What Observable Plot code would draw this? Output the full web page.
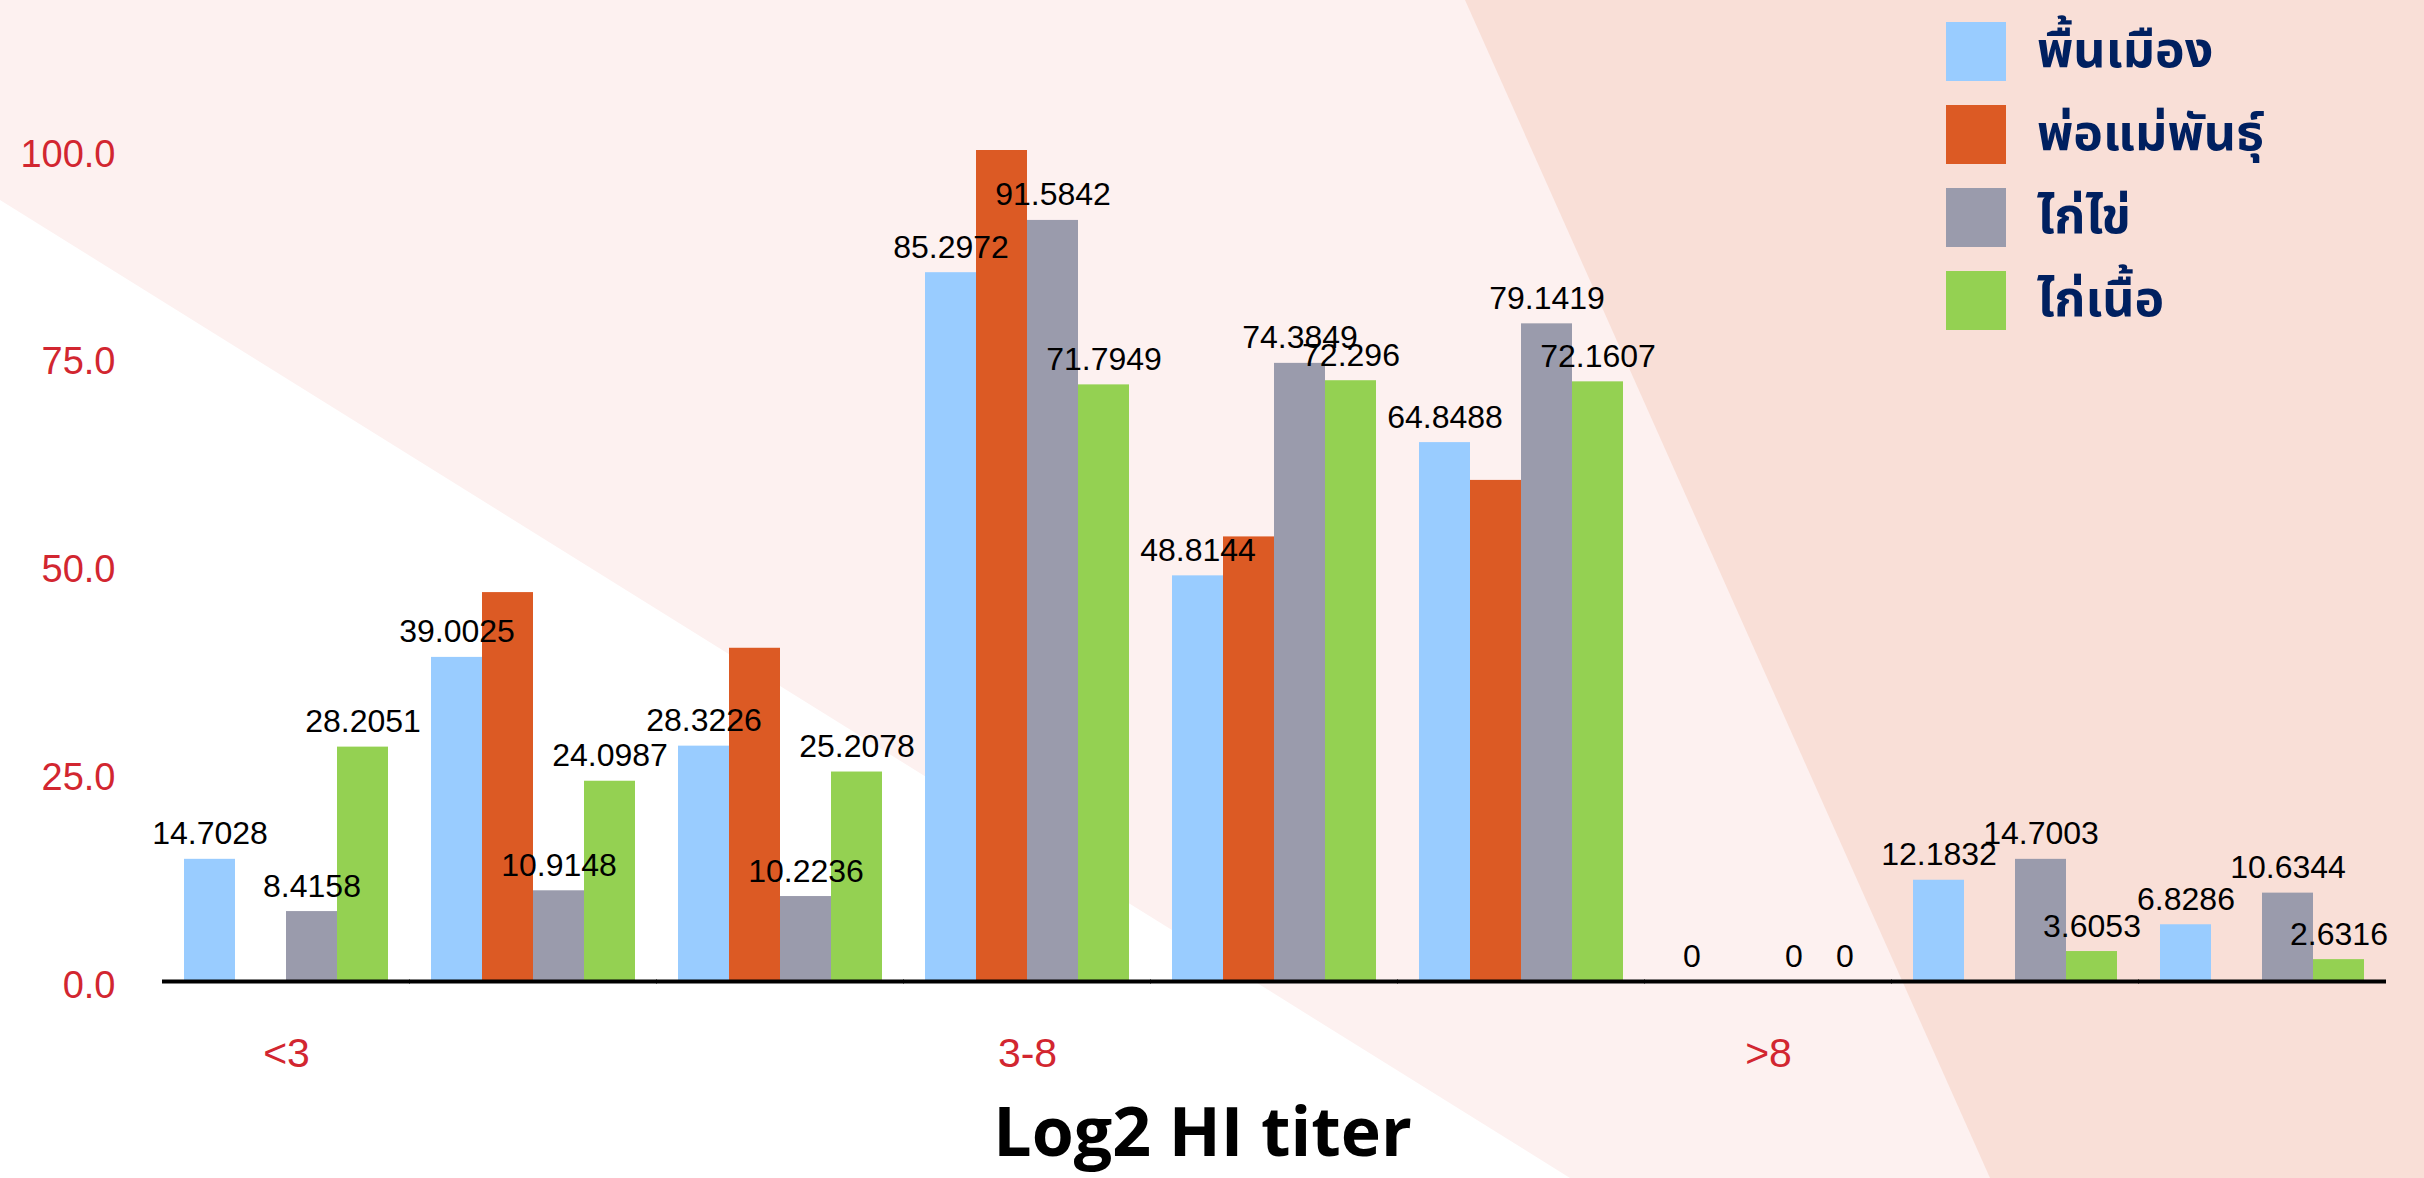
<!DOCTYPE html>
<html>
<head>
<meta charset="utf-8">
<script src="https://cdn.jsdelivr.net/npm/d3@7"></script>
<script src="https://cdn.jsdelivr.net/npm/@observablehq/plot@0.6"></script>
<style>
  body { margin: 0; }
  #wrap { position: relative; width: 2424px; height: 1178px; overflow: hidden; background: #ffffff; }
  .bg { position: absolute; left: 0; top: 0; width: 2424px; height: 1178px; }
  #bg1 { background: #fdf1f0; clip-path: polygon(0 0, 2424px 0, 2424px 1178px, 1570px 1178px, 0 200px); }
  #bg2 { background: #f9dfd7; clip-path: polygon(1465px 0, 2424px 0, 2424px 1178px, 1990px 1178px); }
  #chart { position: absolute; left: 0; top: 0; }
  #title { position: absolute; left: 0; top: 1096px; width: 2405px; height: 68px; line-height: 68px;
           text-align: center; font-family: "Open Sans", sans-serif; font-weight: 700; font-size: 68px; color: #000; }
  #legend { position: absolute; left: 1946px; top: 22px; }
  .item { display: flex; align-items: center; height: 59px; margin-bottom: 24px; }
  .sw { width: 60px; height: 59px; margin-right: 31px; flex: none; }
  .lab { font-family: "Noto Sans Thai", "Noto Sans", sans-serif; font-weight: 700; font-size: 50px; color: #002060; white-space: nowrap; }
</style>
</head>
<body>
<div id="wrap">
  <div class="bg" id="bg1"></div>
  <div class="bg" id="bg2"></div>
  <div id="chart"></div>
  <div id="legend"></div>
  <div id="title"></div>
</div>
<script>
// ---- data ----
const groups = ["g1", "g2", "g3", "g4", "g5", "g6", "g7", "g8", "g9"];
const groupLabels = ["<3", "", "", "3-8", "", "", ">8", "", ""];
const series = ["พื้นเมือง", "พ่อแม่พันธุ์", "ไก่ไข่", "ไก่เนื้อ"];
const colors = ["#99ccff", "#dc5a24", "#9a9bac", "#94d152"];
const native = [14.7028, 39.0025, 28.3226, 85.2972, 48.8144, 64.8488, 0, 12.1832, 6.8286];
const breeder = [null, 46.8, 40.1, 100, 53.5, 60.3, null, null, null];
const layer = [8.4158, 10.9148, 10.2236, 91.5842, 74.3849, 79.1419, 0, 14.7003, 10.6344];
const broiler = [28.2051, 24.0987, 25.2078, 71.7949, 72.296, 72.1607, 0, 3.6053, 2.6316];
const yTicks = [0, 25, 50, 75, 100];
const xTitle = "Log2 HI titer";

// ---- table ----
const valuesBySeries = [native, breeder, layer, broiler];
const table = [];
groups.forEach((g, i) => {
  series.forEach((s, j) => {
    const v = valuesBySeries[j][i];
    if (v != null) table.push({group: g, series: s, value: v});
  });
});
const labelled = table.filter(d => d.series !== series[1]);

const chart = Plot.plot({
  width: 2424,
  height: 1090,
  marginLeft: 160,
  marginRight: 37,
  marginTop: 150,
  marginBottom: 109,
  style: {background: "transparent", fontFamily: "'Liberation Sans', sans-serif", overflow: "visible"},
  fx: {domain: groups, paddingInner: 0.176, paddingOuter: 0.088},
  x: {domain: series, padding: 0, axis: null},
  y: {domain: [0, 100]},
  color: {domain: series, range: colors},
  marks: [
    Plot.barY(table, {fx: "group", x: "series", y: "value", fill: "series"}),
    Plot.text(labelled, {fx: "group", x: "series", y: "value", text: d => String(d.value),
      lineAnchor: "bottom", dy: -15, fontSize: 32, fill: "black"}),
    Plot.ruleY([0], {stroke: "black", strokeWidth: 4, insetLeft: -22, insetRight: -22}),
    Plot.axisY({ticks: yTicks, tickFormat: d3.format(".1f"), tickSize: 0, tickPadding: 69,
      fontSize: 38, fill: "#d22630", label: null, dy: 4}),
    Plot.axisFx({anchor: "bottom", tickSize: 0, tickPadding: 56, fontSize: 41, fill: "#d22630", label: null,
      tickFormat: d => groupLabels[groups.indexOf(d)]})
  ]
});
document.getElementById("chart").appendChild(chart);

// ---- legend ----
const legend = document.getElementById("legend");
series.forEach((s, i) => {
  const item = document.createElement("div");
  item.className = "item";
  const sw = document.createElement("div");
  sw.className = "sw";
  sw.style.background = colors[i];
  const lab = document.createElement("span");
  lab.className = "lab";
  lab.textContent = s;
  item.appendChild(sw);
  item.appendChild(lab);
  legend.appendChild(item);
});
document.getElementById("title").textContent = xTitle;
</script>
</body>
</html>
